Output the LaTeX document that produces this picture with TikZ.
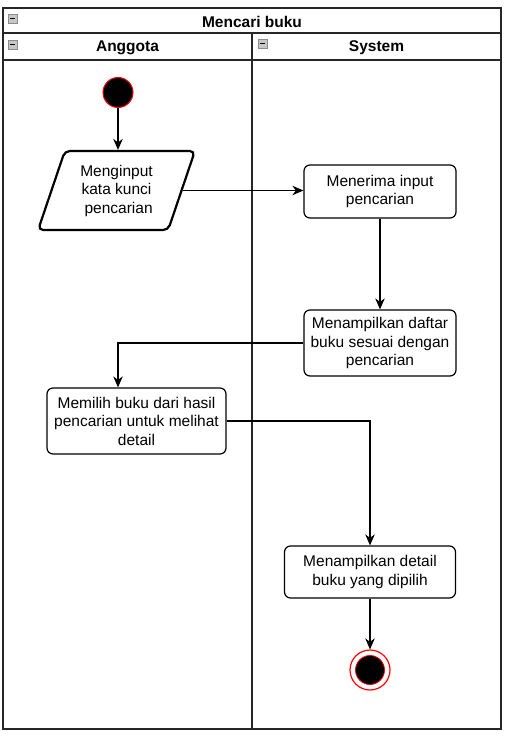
\documentclass[tikz,border=0pt]{standalone}
\usepackage{fontspec}
\setmainfont{Liberation Sans}
\usetikzlibrary{arrows.meta,shapes.geometric,calc}
\begin{document}
\begin{tikzpicture}[x=1pt,y=-1pt,
  frame/.style={draw=black!85,line width=1.6pt},
  txt/.style={font=\fontsize{15.5pt}{18.5pt}\selectfont,align=center,text=black},
  hdr/.style={font=\fontsize{15.5pt}{18pt}\selectfont\bfseries,text=black},
  actbox/.style={txt,draw=black,line width=1.2pt,rounded corners=6pt,fill=white,inner sep=0pt},
  flow/.style={draw=black,line width=1.3pt,-{Stealth[length=11pt,width=9.5pt,inset=3.5pt]}},
  icon/.style={draw=black!45,fill=black!22,line width=0.6pt}]
\useasboundingbox (0,0) rectangle (510,738);
\fill[white] (0,0) rectangle (510,738);
% pool frame
\draw[frame] (3,8) rectangle (501,729);
\draw[frame] (3,33) -- (501,33);
\draw[frame] (3,60) -- (501,60);
\draw[frame] (252,33) -- (252,729);
% headers
\node[hdr] (title) at (252,21.5) {Mencari buku};
\node[hdr] (laneA) at (127.5,47.5) {Anggota};
\node[hdr] (laneS) at (376.5,47.5) {System};
% collapse icons
\foreach \ix/\iy in {8/14,8/40,258/39}{
  \draw[icon] (\ix,\iy) rectangle ++(9,9);
  \draw[black,line width=1.2pt] (\ix+1.8,\iy+4.5) -- (\ix+7.2,\iy+4.5);
}
% start
\node[circle,fill=black,draw=red,line width=1pt,minimum size=30pt,inner sep=0pt] (start) at (118,92.5) {};
% input parallelogram
\node[txt,trapezium,trapezium left angle=70,trapezium right angle=110,trapezium stretches=true,
      minimum width=157pt,minimum height=79pt,draw=black,line width=2.2pt,rounded corners=5pt,inner sep=0pt] (inp) at (116.5,190.5)
      {Menginput\\kata kunci\\ \ pencarian};
% activities
\node[actbox,minimum width=152pt,minimum height=53pt] (b1) at (380,191.5) {Menerima input\\pencarian};
\node[actbox,minimum width=152pt,minimum height=66pt] (b2) at (380,343) {Menampilkan daftar\\buku sesuai dengan\\pencarian};
\node[actbox,minimum width=179pt,minimum height=66pt] (b3) at (136.5,421) {Memilih buku dari hasil\\pencarian untuk melihat\\detail};
\node[actbox,minimum width=171pt,minimum height=52pt] (b4) at (370,572) {Menampilkan detail\\buku yang dipilih};
% end
\node[circle,draw=red,line width=1.2pt,fill=white,minimum size=40pt,inner sep=0pt] (endo) at (370,670) {};
\node[circle,fill=black,draw=red,line width=0.8pt,minimum size=29pt,inner sep=0pt] (endi) at (370,670) {};
% connectors
\draw[flow] (start.south) -- (start.south |- inp.north);
\draw[flow] (inp.east) -- (inp.east -| b1.west);
\draw[flow] (b1.south) -- (b2.north);
\draw[flow] (b2.west) -| (start.south |- b3.north);
\draw[flow] (b3.east) -| (b4.north);
\draw[flow] (b4.south) -- (endo.north);
\end{tikzpicture}
\end{document}
